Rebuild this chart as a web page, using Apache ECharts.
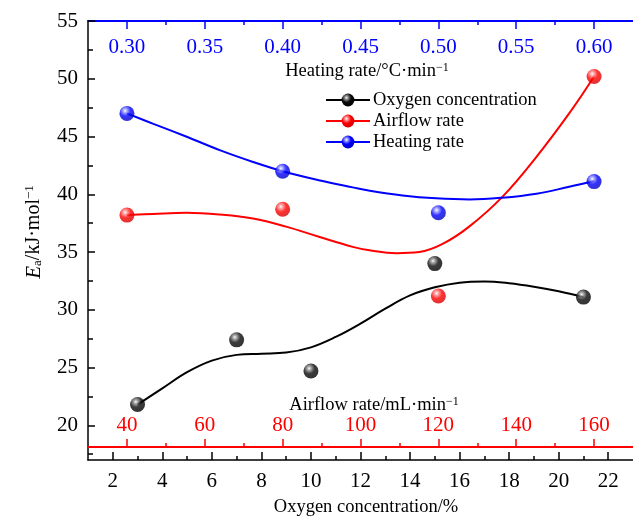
<!DOCTYPE html>
<html>
<head>
<meta charset="utf-8">
<script src="https://cdn.jsdelivr.net/npm/echarts@6/dist/echarts.min.js"></script>
<style>
  html, body { margin: 0; padding: 0; background: #fff; }
  #chart { width: 633px; height: 518px; }
</style>
</head>
<body>
<div id="chart"></div>
<script>
// Measured activation energies
const oxygenX = [3, 7, 10, 15, 21];
const oxygenEa = [21.8, 27.4, 24.7, 34.0, 31.1];
const airflowX = [40, 80, 120, 160];
const airflowEa = [38.2, 38.7, 31.2, 50.2];
const heatingX = [0.30, 0.40, 0.50, 0.60];
const heatingEa = [47.0, 42.0, 38.4, 41.1];

// Fitted trend curves (sampled)
const oxygenFitX = [3, 4, 5, 6, 7, 8, 9, 10, 11, 12, 13, 14, 15, 16, 17, 18, 19, 20, 21];
const oxygenFitEa = [21.8, 23.2, 24.6, 25.6, 26.1, 26.2, 26.3, 26.75, 27.65, 28.8, 30.1, 31.25, 31.95, 32.35, 32.45, 32.3, 32.0, 31.6, 31.1];
const airflowFitX = [40, 46.7, 55.3, 63.8, 72.4, 80.9, 89.5, 98, 102.3, 109.2, 115.1, 121.1, 127.9, 136.5, 145.1, 153.6, 160];
const airflowFitEa = [38.2, 38.3, 38.4, 38.25, 37.9, 37.2, 36.3, 35.45, 35.15, 34.9, 35.0, 35.7, 37.2, 39.8, 43.2, 47.0, 50.2];
const heatingFitX = [0.30, 0.317, 0.338, 0.36, 0.381, 0.40, 0.424, 0.445, 0.456, 0.477, 0.4985, 0.52, 0.541, 0.563, 0.584, 0.60];
const heatingFitEa = [47.0, 46.1, 45.0, 43.8, 42.8, 42.0, 41.2, 40.6, 40.3, 39.9, 39.65, 39.55, 39.7, 40.05, 40.65, 41.15];

// Tick values
const oxygenTicks = [2, 4, 6, 8, 10, 12, 14, 16, 18, 20, 22];
const oxygenMinorTicks = [3, 5, 7, 9, 11, 13, 15, 17, 19, 21];
const airflowTicks = [40, 60, 80, 100, 120, 140, 160];
const airflowMinorTicks = [50, 70, 90, 110, 130, 150];
const heatingTicks = [0.30, 0.35, 0.40, 0.45, 0.50, 0.55, 0.60];
const heatingMinorTicks = [0.325, 0.375, 0.425, 0.475, 0.525, 0.575];
const eaTicks = [20, 25, 30, 35, 40, 45, 50, 55];
const eaMinorTicks = [17.5, 22.5, 27.5, 32.5, 37.5, 42.5, 47.5, 52.5];

const FONT = 'Liberation Serif';
const RED = '#ff0000', BLUE = '#0000ff', BLACK = '#000000';
const TICK_FONT = 21;

function zip(xs, ys) { return xs.map((x, i) => [x, ys[i]]); }

function sphere(light, base, dark) {
  return {
    type: 'radial', x: 0.38, y: 0.32, r: 0.72, global: false,
    colorStops: [
      { offset: 0, color: '#ffffff' },
      { offset: 0.16, color: light },
      { offset: 0.5, color: base },
      { offset: 1, color: dark }
    ]
  };
}
const blackBall = sphere('#9a9a9a', '#0a0a0a', '#000000');
const redBall = sphere('#ff9c9c', '#ff0000', '#d20000');
const blueBall = sphere('#a0a0ff', '#0000ff', '#0000bc');

function majorAxis(opts) {
  return Object.assign({
    type: 'value', gridIndex: 0, splitLine: { show: false },
    axisLine: { show: true, onZero: false, lineStyle: { color: opts.color, width: 2 } },
    axisTick: { show: true, inside: true, length: 8, customValues: opts.ticks, lineStyle: { color: opts.color, width: 1.5 } },
    axisLabel: { show: true, customValues: opts.ticks, inside: !!opts.labelInside, margin: opts.margin,
      color: opts.color, fontFamily: FONT, fontSize: TICK_FONT, formatter: opts.formatter },
    minorTick: { show: false }
  }, opts.extra);
}
function minorAxis(opts) {
  return Object.assign({
    type: 'value', gridIndex: 0, splitLine: { show: false },
    axisLine: { show: false, onZero: false },
    axisTick: { show: true, inside: true, length: 4, customValues: opts.ticks, lineStyle: { color: opts.color, width: 1.5 } },
    axisLabel: { show: false }
  }, opts.extra);
}

const chart = echarts.init(document.getElementById('chart'), null, { renderer: 'canvas' });

const nameStyle = { fontFamily: FONT, fontSize: 18.5, fill: BLACK };
const supRich = { sup: { fontFamily: FONT, fontSize: 12, verticalAlign: 'top', lineHeight: 12 } };

chart.setOption({
  animation: false,
  backgroundColor: '#ffffff',
  grid: { left: 88, top: 21, width: 546, height: 439, containLabel: false },
  legend: {
    orient: 'vertical', left: 325, top: 90, padding: 0,
    itemWidth: 44, itemHeight: 16, itemGap: 1,
    textStyle: { fontFamily: FONT, fontSize: 18.5, lineHeight: 20, color: BLACK, padding: [0, 0, 0, -2] },
    data: ['Oxygen concentration', 'Airflow rate', 'Heating rate']
  },
  xAxis: [
    majorAxis({ color: BLACK, ticks: oxygenTicks, margin: 11,
      extra: { min: 1, max: 23, position: 'bottom', axisLine: { show: true, onZero: false, lineStyle: { color: BLACK, width: 1.5 } } } }),
    minorAxis({ color: BLACK, ticks: oxygenMinorTicks, extra: { min: 1, max: 23, position: 'bottom' } }),
    majorAxis({ color: RED, ticks: airflowTicks, margin: 11, labelInside: true,
      extra: { min: 30, max: 170, position: 'bottom', offset: -13 } }),
    minorAxis({ color: RED, ticks: airflowMinorTicks, extra: { min: 30, max: 170, position: 'bottom', offset: -13 } }),
    majorAxis({ color: BLUE, ticks: heatingTicks, margin: 16, labelInside: true,
      formatter: v => v.toFixed(2),
      extra: { min: 0.275, max: 0.625, position: 'top' } }),
    minorAxis({ color: BLUE, ticks: heatingMinorTicks, extra: { min: 0.275, max: 0.625, position: 'top' } })
  ],
  yAxis: [
    majorAxis({ color: BLACK, ticks: eaTicks, margin: 10,
      extra: { min: 17, max: 55, position: 'left', axisLine: { show: true, onZero: false, lineStyle: { color: BLACK, width: 1.5 } },
        axisTick: { show: true, inside: true, length: 7, customValues: eaTicks, lineStyle: { color: BLACK, width: 1.5 } } } }),
    minorAxis({ color: BLACK, ticks: eaMinorTicks, extra: { min: 17, max: 55, position: 'left',
      axisTick: { show: true, inside: true, length: 5, customValues: eaMinorTicks, lineStyle: { color: BLACK, width: 1.5 } } } })
  ],
  series: [
    { name: 'Oxygen concentration', type: 'line', xAxisIndex: 0, yAxisIndex: 0,
      data: zip(oxygenFitX, oxygenFitEa), smooth: 0.4, symbol: 'circle', symbolSize: 15, showSymbol: false,
      itemStyle: { color: blackBall }, lineStyle: { color: BLACK, width: 2 }, z: 2 },
    { name: 'Airflow rate', type: 'line', xAxisIndex: 2, yAxisIndex: 0,
      data: zip(airflowFitX, airflowFitEa), smooth: 0.4, symbol: 'circle', symbolSize: 15, showSymbol: false,
      itemStyle: { color: redBall }, lineStyle: { color: RED, width: 2 }, z: 2 },
    { name: 'Heating rate', type: 'line', xAxisIndex: 4, yAxisIndex: 0,
      data: zip(heatingFitX, heatingFitEa), smooth: 0.4, symbol: 'circle', symbolSize: 15, showSymbol: false,
      itemStyle: { color: blueBall }, lineStyle: { color: BLUE, width: 2 }, z: 2 },
    { name: 'Oxygen concentration', type: 'scatter', xAxisIndex: 0, yAxisIndex: 0,
      data: zip(oxygenX, oxygenEa), symbolSize: 15, itemStyle: { color: blackBall }, z: 3 },
    { name: 'Airflow rate', type: 'scatter', xAxisIndex: 2, yAxisIndex: 0,
      data: zip(airflowX, airflowEa), symbolSize: 15, itemStyle: { color: redBall }, z: 3 },
    { name: 'Heating rate', type: 'scatter', xAxisIndex: 4, yAxisIndex: 0,
      data: zip(heatingX, heatingEa), symbolSize: 15, itemStyle: { color: blueBall }, z: 3 }
  ],
  graphic: [
    { type: 'text', x: 367, y: 71, z: 10,
      style: Object.assign({ text: 'Heating rate/°C·min{sup|−1}', rich: supRich, align: 'center', verticalAlign: 'middle' }, nameStyle) },
    { type: 'text', x: 374, y: 405, z: 10,
      style: Object.assign({ text: 'Airflow rate/mL·min{sup|−1}', rich: supRich, align: 'center', verticalAlign: 'middle' }, nameStyle) },
    { type: 'text', x: 366, y: 507, z: 10,
      style: Object.assign({ text: 'Oxygen concentration/%', align: 'center', verticalAlign: 'middle' }, nameStyle) },
    { type: 'text', x: 34, y: 232, rotation: Math.PI / 2, z: 10,
      style: Object.assign({
        text: '{i|E}{sub|a}/kJ·mol{sup|−1}', align: 'center', verticalAlign: 'middle',
        rich: {
          i: { fontFamily: FONT, fontSize: 21, fontStyle: 'italic' },
          sub: { fontFamily: FONT, fontSize: 13, verticalAlign: 'bottom', lineHeight: 13 },
          sup: { fontFamily: FONT, fontSize: 13, verticalAlign: 'top', lineHeight: 13 }
        }
      }, nameStyle, { fontSize: 20 }) }
  ]
});
</script>
</body>
</html>
